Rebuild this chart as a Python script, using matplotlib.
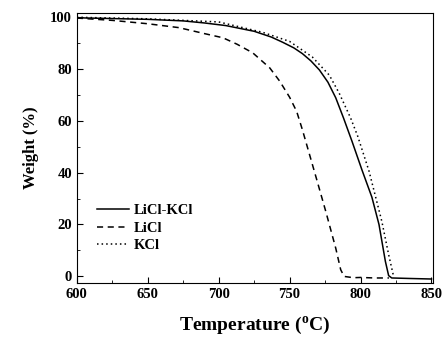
import numpy as np
import matplotlib
matplotlib.use("Agg")
import matplotlib.pyplot as plt

plt.rcParams['font.family'] = ['Liberation Serif', 'DejaVu Serif']
plt.rcParams['font.weight'] = 'bold'
plt.rcParams['mathtext.fontset'] = 'custom'
plt.rcParams['mathtext.rm'] = 'Liberation Serif:bold'

# values
t_mix = [600, 625, 650, 675, 690, 705, 725, 737, 745, 753, 759, 765, 771, 777, 782.5, 788, 794, 801, 808, 813, 817.5, 819.8, 822, 835, 850]
w_mix = [99.6, 99.3, 99.0, 98.4, 97.6, 96.6, 94.4, 92.2, 90.2, 88.0, 85.8, 83.0, 79.5, 74.8, 68.8, 61.0, 52.0, 41.0, 30.5, 20.0, 5.8, 0.3, -0.6, -0.8, -1.0]

t_li = [600, 625, 650, 672, 690, 703, 713, 724, 736, 743, 750, 755, 759, 764, 769, 775.5, 782.5, 786, 788.4, 795, 800, 810, 820]
w_li = [99.5, 98.6, 97.3, 95.8, 93.5, 91.9, 89.4, 86.1, 80.3, 75.2, 69.0, 63.5, 56.5, 47.0, 37.5, 25.0, 10.9, 2.6, 0.0, -0.5, -0.4, -0.6, -0.6]

t_k = [600, 650, 700, 731, 750, 766, 778, 785, 793, 798, 806, 815, 819.8, 823.3]
w_k = [99.8, 99.2, 98.0, 94.0, 90.5, 84.5, 77.5, 70.5, 61.0, 54.0, 40.5, 21.2, 8.4, 0.0]

fig = plt.figure(figsize=(4.44, 3.38), dpi=100)
ax = fig.add_axes([0.173, 0.163, 0.802, 0.799])

ax.plot(t_mix, w_mix, color='black', lw=1.1, ls='-', label='LiCl-KCl')
ax.plot(t_li, w_li, color='black', lw=1.1, ls=(0, (4, 3)), label='LiCl')
ax.plot(t_k, w_k, color='black', lw=1.1, ls=(0, (1, 2)), label='KCl')

ax.set_xlim(600, 851)
ax.set_ylim(-2.5, 101.5)
ax.set_xticks(np.arange(600, 851, 50))
ax.set_xticks(np.arange(625, 850, 50), minor=True)
ax.set_yticks(np.arange(0, 101, 20))
ax.set_yticks(np.arange(10, 100, 20), minor=True)
ax.tick_params(which='both', direction='in', labelsize=10.5)
ax.tick_params(which='major', length=4)
ax.tick_params(which='minor', length=2)
for lab in ax.get_xticklabels() + ax.get_yticklabels():
    lab.set_fontweight('bold')

ax.set_xlabel('Temperature ($^{\\rm o}$C)', fontsize=14, fontweight='bold', labelpad=10)
ax.set_ylabel('Weight (%)', fontsize=12, fontweight='bold', labelpad=8)

leg = ax.legend(loc='lower left', bbox_to_anchor=(0.02, 0.065), frameon=False,
                fontsize=10.5, handlelength=2.2, handletextpad=0.3, labelspacing=0.3)

fig.savefig('out.png', dpi=100)
